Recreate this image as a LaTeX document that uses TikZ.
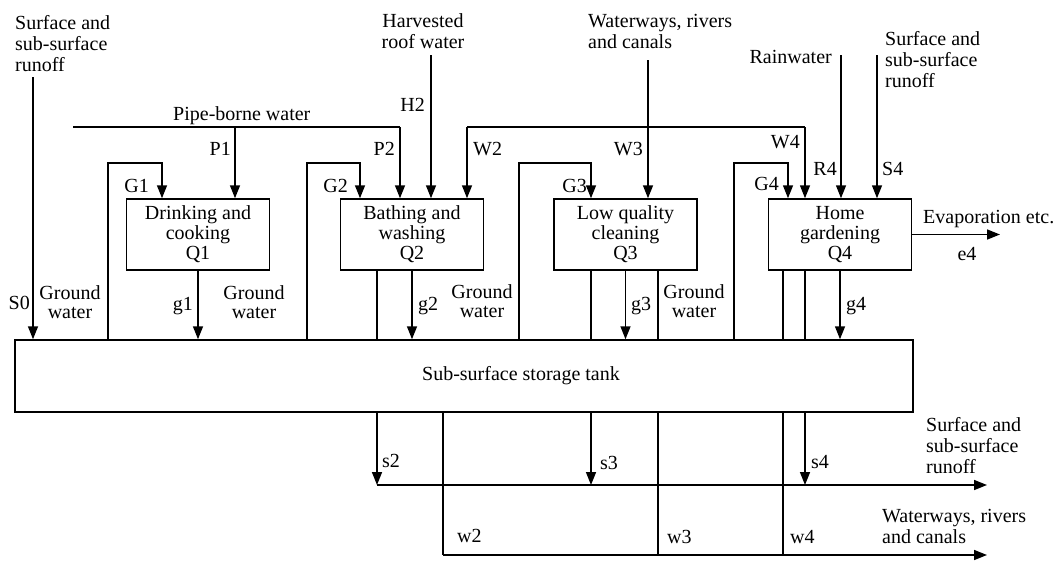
\documentclass[tikz,border=0pt]{standalone}
\usepackage{fontspec}
\setmainfont{Liberation Serif}
\usepackage{tikz}
\usetikzlibrary{positioning,arrows.meta}
\pgfdeclarelayer{nodelayer}
\pgfdeclarelayer{edgelayer}
\pgfsetlayers{main,nodelayer,edgelayer}
\tikzstyle{use_box}=[draw=black, line width=1.5pt, minimum width=143pt, minimum height=71pt, inner sep=0pt, align=center, font=\fontsize{20}{20}\selectfont]
\tikzstyle{flow_edge}=[-{Triangle[length=13pt,width=10pt]}, draw=black, line width=1.5pt]
\tikzstyle{plain_edge}=[-, draw=black, line width=1.5pt]
\tikzstyle{flow_label}=[inner sep=0pt, align=left, font=\fontsize{20}{21}\selectfont]
\tikzstyle{gw_label}=[inner sep=0pt, align=center, font=\fontsize{20}{18.5}\selectfont]

\begin{document}
\begin{tikzpicture}[x=1pt, y=-1pt]
        \useasboundingbox (0,0) rectangle (1062,560);
        \begin{pgfonlayer}{nodelayer}
            % uses of water
            \node[style=use_box] (q1) at (198,234.5) {Drinking and\\cooking\\Q1};
            \node[style=use_box] (q2) at (412,234.5) {Bathing and\\washing\\Q2};
            \node[style=use_box] (q3) at (625.5,234.5) {Low quality\\cleaning\\Q3};
            \node[style=use_box] (q4) at (840,234.5) {Home\\gardening\\Q4};
            \node[style=use_box, minimum width=898pt, minimum height=72pt] (tank) at (464,376) {};
            \node[style=flow_label] (tanktext) at (521,376) {Sub-surface storage tank};
            % sources
            \node[style=flow_label, anchor=base west] (runoffin) at (15,71) {Surface and\\sub-surface\\runoff};
            \node[style=flow_label, anchor=base west] (pipetext) at (173,120) {Pipe-borne water};
            \node[style=flow_label, align=center, anchor=base] (roof) at (423,48) {Harvested\\roof water};
            \node[style=flow_label, anchor=base west] (riversin) at (588,48) {Waterways, rivers\\and canals};
            \node[style=flow_label, anchor=base east] (rain) at (832,63) {Rainwater};
            \node[style=flow_label, anchor=base west] (runoffin4) at (885,87) {Surface and\\sub-surface\\runoff};
            % sinks
            \node[style=flow_label, anchor=base west] (evaptext) at (923,223) {Evaporation etc.};
            \node[style=flow_label, anchor=base west] (runoffout) at (926,473) {Surface and\\sub-surface\\runoff};
            \node[style=flow_label, anchor=base west] (riversout) at (882,543) {Waterways, rivers\\and canals};
            \node[style=gw_label, anchor=base] (gw1) at (70,318) {Ground\\water};
            \node[style=gw_label, anchor=base] (gw2) at (254,318) {Ground\\water};
            \node[style=gw_label, anchor=base] (gw3) at (482,317) {Ground\\water};
            \node[style=gw_label, anchor=base] (gw4) at (694,317) {Ground\\water};
            % flow names
            \node[style=flow_label, anchor=base east] (S0) at (30,309) {S0};
            \node[style=flow_label, anchor=base east] (P1) at (231,155) {P1};
            \node[style=flow_label, anchor=base east] (P2) at (395,155) {P2};
            \node[style=flow_label, anchor=base east] (H2) at (425,111) {H2};
            \node[style=flow_label, anchor=base west] (W2) at (473,155) {W2};
            \node[style=flow_label, anchor=base east] (W3) at (643,155) {W3};
            \node[style=flow_label, anchor=base east] (W4) at (800,148) {W4};
            \node[style=flow_label, anchor=base east] (R4) at (837,175) {R4};
            \node[style=flow_label, anchor=base west] (S4) at (882,175) {S4};
            \node[style=flow_label, anchor=base east] (G1) at (149,192) {G1};
            \node[style=flow_label, anchor=base east] (G2) at (348,192) {G2};
            \node[style=flow_label, anchor=base east] (G3) at (587,192) {G3};
            \node[style=flow_label, anchor=base east] (G4) at (779,190) {G4};
            \node[style=flow_label, anchor=base east] (g1) at (193,310) {g1};
            \node[style=flow_label, anchor=base west] (g2) at (418,310) {g2};
            \node[style=flow_label, anchor=base west] (g3) at (631,310) {g3};
            \node[style=flow_label, anchor=base west] (g4) at (846,310) {g4};
            \node[style=flow_label, anchor=base] (e4) at (967,260) {e4};
            \node[style=flow_label, anchor=base west] (s2) at (382,467) {s2};
            \node[style=flow_label, anchor=base west] (s3) at (600,469) {s3};
            \node[style=flow_label, anchor=base west] (s4) at (811,468) {s4};
            \node[style=flow_label, anchor=base west] (w2) at (457,542) {w2};
            \node[style=flow_label, anchor=base west] (w3) at (667,543) {w3};
            \node[style=flow_label, anchor=base west] (w4) at (790,543) {w4};
        \end{pgfonlayer}
        \begin{pgfonlayer}{edgelayer}
            % supply lines
            \coordinate (s0top) at (33,77);
            \coordinate (pipeL) at (73,127);
            \coordinate (p1) at (235,127);
            \coordinate (p2) at (400,127);
            \coordinate (h2) at (431,55);
            \coordinate (wL) at (467,127);
            \coordinate (w3top) at (648,60);
            \coordinate (wR) at (805,127);
            \coordinate (r4top) at (841,55);
            \coordinate (s4top) at (877,55);
            \draw[style=flow_edge] (s0top) -- (s0top |- tank.north);
            \draw[style=plain_edge] (pipeL) -- (p2);
            \draw[style=flow_edge] (p1) -- (p1 |- q1.north);
            \draw[style=flow_edge] (p2) -- (p2 |- q2.north);
            \draw[style=flow_edge] (h2) -- (h2 |- q2.north);
            \draw[style=plain_edge] (wL) -- (wR);
            \draw[style=flow_edge] (wL) -- (wL |- q2.north);
            \draw[style=flow_edge] (w3top) -- (w3top |- q3.north);
            \draw[style=flow_edge] (wR) -- (wR |- q4.north);
            \draw[style=flow_edge] (r4top) -- (r4top |- q4.north);
            \draw[style=flow_edge] (s4top) -- (s4top |- q4.north);
            % ground water loops
            \coordinate (G1a) at (108,163);
            \coordinate (G1b) at (162,163);
            \coordinate (G2a) at (307,163);
            \coordinate (G2b) at (360,163);
            \coordinate (G3a) at (519,163);
            \coordinate (G3b) at (591,163);
            \coordinate (G4a) at (734,163);
            \coordinate (G4b) at (788,163);
            \draw[style=flow_edge] (G1a |- tank.north) -- (G1a) -- (G1b) -- (G1b |- q1.north);
            \draw[style=flow_edge] (G2a |- tank.north) -- (G2a) -- (G2b) -- (G2b |- q2.north);
            \draw[style=flow_edge] (G3a |- tank.north) -- (G3a) -- (G3b) -- (G3b |- q3.north);
            \draw[style=flow_edge] (G4a |- tank.north) -- (G4a) -- (G4b) -- (G4b |- q4.north);
            % recharge
            \draw[style=flow_edge] (q1.south) -- (q1.south |- tank.north);
            \draw[style=flow_edge] (q2.south) -- (q2.south |- tank.north);
            \draw[style=flow_edge] (q3.south) -- (q3.south |- tank.north);
            \draw[style=flow_edge] (q4.south) -- (q4.south |- tank.north);
            % outflows
            \coordinate (s2x) at (377,485);
            \coordinate (s3x) at (591,485);
            \coordinate (s4x) at (805,485);
            \coordinate (w2x) at (443,555);
            \coordinate (w3x) at (658,555);
            \coordinate (w4x) at (783,555);
            \coordinate (sEnd) at (987,485);
            \coordinate (wEnd) at (987,555);
            \coordinate (evapEnd) at (1000,234.5);
            \draw[style=flow_edge] (q4.east) -- (evapEnd);
            \draw[style=plain_edge] (s2x |- q2.south) -- (s2x |- tank.north);
            \draw[style=plain_edge] (s3x |- q3.south) -- (s3x |- tank.north);
            \draw[style=plain_edge] (w3x |- q3.south) -- (w3x |- tank.north);
            \draw[style=plain_edge] (w4x |- q4.south) -- (w4x |- tank.north);
            \draw[style=plain_edge] (s4x |- q4.south) -- (s4x |- tank.north);
            \draw[style=flow_edge] (s2x |- tank.south) -- (s2x);
            \draw[style=flow_edge] (s3x |- tank.south) -- (s3x);
            \draw[style=flow_edge] (s4x |- tank.south) -- (s4x);
            \draw[style=flow_edge] (s2x) -- (sEnd);
            \draw[style=plain_edge] (w2x |- tank.south) -- (w2x);
            \draw[style=plain_edge] (w3x |- tank.south) -- (w3x);
            \draw[style=plain_edge] (w4x |- tank.south) -- (w4x);
            \draw[style=flow_edge] (w2x) -- (wEnd);
        \end{pgfonlayer}
    \end{tikzpicture}
\end{document}
